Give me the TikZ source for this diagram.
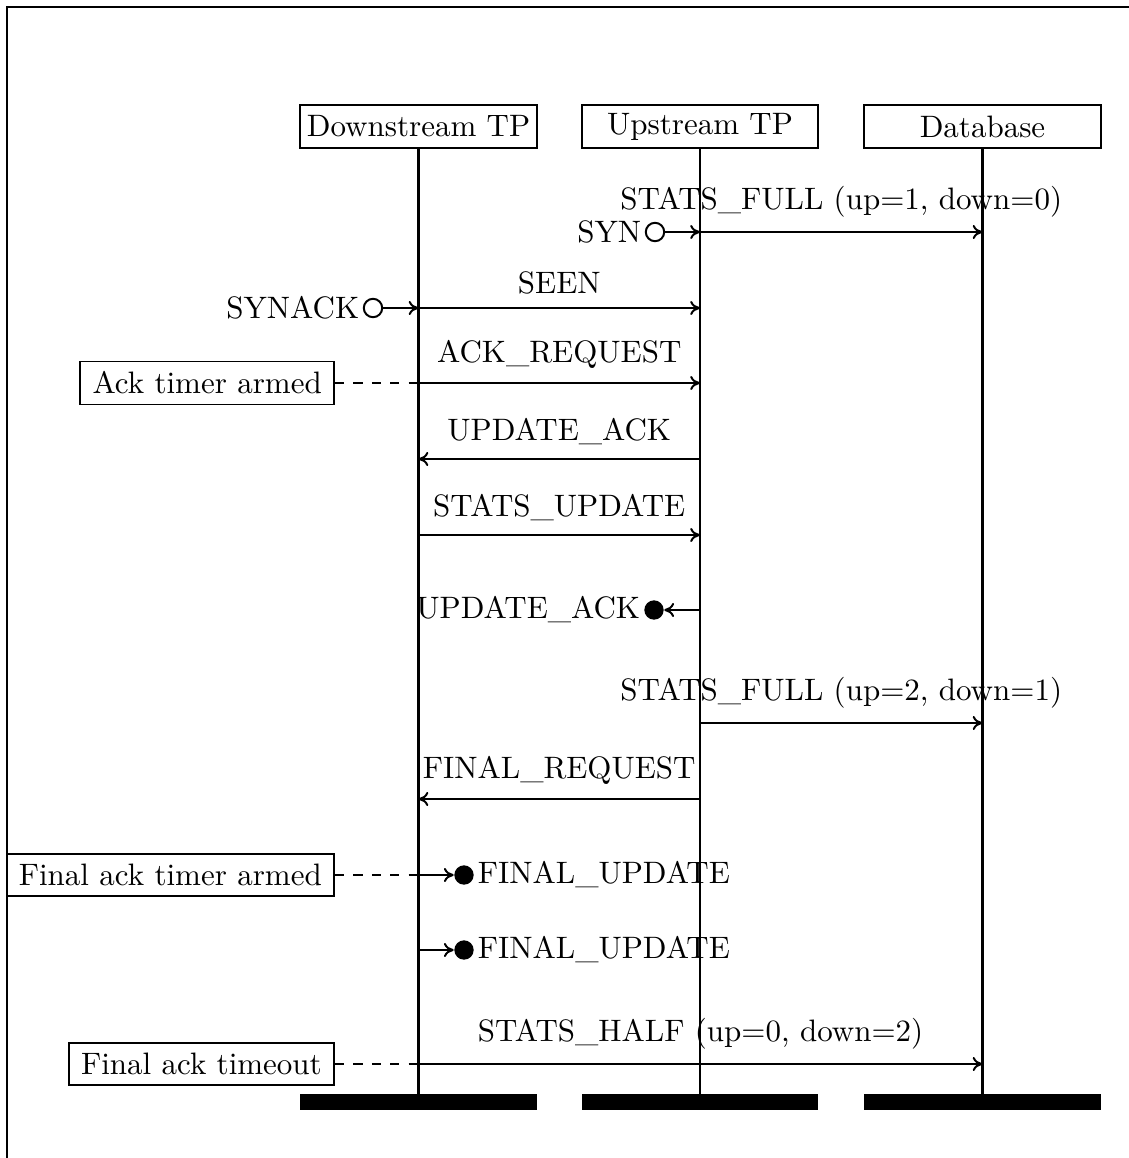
\documentclass[tikz,border=0pt]{standalone}
\usetikzlibrary{arrows.meta}
\begin{document}
\begin{tikzpicture}[x=0.3257pt,y=-0.3257pt,
  font=\fontsize{10.1pt}{12pt}\selectfont,
  head/.style={draw,line width=0.6pt,minimum width=77pt,minimum height=14pt,inner sep=0pt},
  endbar/.style={fill=black,minimum width=77pt,minimum height=5pt,inner sep=0pt},
  lifeline/.style={line width=0.95pt},
  msg/.style={-{To[length=3.2pt,width=4.6pt]},line width=0.65pt},
  lbl/.style={above=1pt},
  timer/.style={dashed,line width=0.6pt},
  note/.style={draw,line width=0.6pt,inner xsep=4pt,minimum height=13.4pt,anchor=east},
  opendot/.style={circle,draw,line width=0.65pt,minimum size=6pt,inner sep=0pt},
  fulldot/.style={circle,fill=black,minimum size=6.3pt,inner sep=0pt},
  dotlabel/.style={inner sep=1pt}]
\useasboundingbox (0,0) rectangle (1129,1158);
% outer frame
\draw[line width=0.6pt] (7,1200) -- (7,7) -- (1200,7);

% participants
\node[head] (dn) at (418.5,126.5) {Downstream TP};
\node[head] (up) at (700,126.5) {Upstream TP};
\node[head] (db) at (982.5,126.5) {Database};
\node[endbar] (dnend) at (418.5,1102) {};
\node[endbar] (upend) at (700,1102) {};
\node[endbar] (dbend) at (982.5,1102) {};
\draw[lifeline] (dn.south) -- (dnend.north);
\draw[lifeline] (up.south) -- (upend.north);
\draw[lifeline] (db.south) -- (dbend.north);

% points on the lifelines
\coordinate (u1) at (up |- 0,232);  \coordinate (b1) at (db |- 0,232);
\coordinate (d2) at (dn |- 0,308);  \coordinate (u2) at (up |- 0,308);
\coordinate (d3) at (dn |- 0,383);  \coordinate (u3) at (up |- 0,383);
\coordinate (d4) at (dn |- 0,459);  \coordinate (u4) at (up |- 0,459);
\coordinate (d5) at (dn |- 0,535);  \coordinate (u5) at (up |- 0,535);
\coordinate (u6) at (up |- 0,610);
\coordinate (u7) at (up |- 0,723);  \coordinate (b7) at (db |- 0,723);
\coordinate (d8) at (dn |- 0,799);  \coordinate (u8) at (up |- 0,799);
\coordinate (d9) at (dn |- 0,875);
\coordinate (d10) at (dn |- 0,950);
\coordinate (d11) at (dn |- 0,1064); \coordinate (b11) at (db |- 0,1064);

% 1: SYN / STATS_FULL
\node[opendot] (syn) at (655,232) {};
\node[dotlabel,anchor=east] (synlbl) at (syn.west) {SYN};
\draw[msg] (syn) -- (u1);
\draw[msg] (u1) -- node[lbl] {STATS\_FULL (up=1, down=0)} (b1);

% 2: SYNACK / SEEN
\node[opendot] (synack) at (373,308) {};
\node[dotlabel,anchor=east] (synacklbl) at (synack.west) {SYNACK};
\draw[msg] (synack) -- (d2);
\draw[msg] (d2) -- node[lbl] {SEEN} (u2);

% 3: ACK_REQUEST
\node[note] (n1) at (335,383) {Ack timer armed};
\draw[timer] (n1.east) -- (d3);
\draw[msg] (d3) -- node[lbl] {ACK\_REQUEST} (u3);

% 4, 5
\draw[msg] (u4) -- node[lbl] {UPDATE\_ACK} (d4);
\draw[msg] (d5) -- node[lbl] {STATS\_UPDATE} (u5);

% 6: UPDATE_ACK lost
\node[fulldot] (ua) at (654,610) {};
\node[dotlabel,anchor=east] (ualbl) at (ua.west) {UPDATE\_ACK};
\draw[msg] (u6) -- (ua);

% 7, 8
\draw[msg] (u7) -- node[lbl] {STATS\_FULL (up=2, down=1)} (b7);
\draw[msg] (u8) -- node[lbl] {FINAL\_REQUEST} (d8);

% 9: FINAL_UPDATE lost
\node[note] (n2) at (335,875) {Final ack timer armed};
\draw[timer] (n2.east) -- (d9);
\node[fulldot] (fu1) at (464,875) {};
\node[dotlabel,anchor=west] (fu1lbl) at (fu1.east) {FINAL\_UPDATE};
\draw[msg] (d9) -- (fu1);

% 10: FINAL_UPDATE lost again
\node[fulldot] (fu2) at (464,950) {};
\node[dotlabel,anchor=west] (fu2lbl) at (fu2.east) {FINAL\_UPDATE};
\draw[msg] (d10) -- (fu2);

% 11: STATS_HALF
\node[note] (n3) at (335,1064) {Final ack timeout};
\draw[timer] (n3.east) -- (d11);
\draw[msg] (d11) -- node[lbl] {STATS\_HALF (up=0, down=2)} (b11);
\end{tikzpicture}
\end{document}
